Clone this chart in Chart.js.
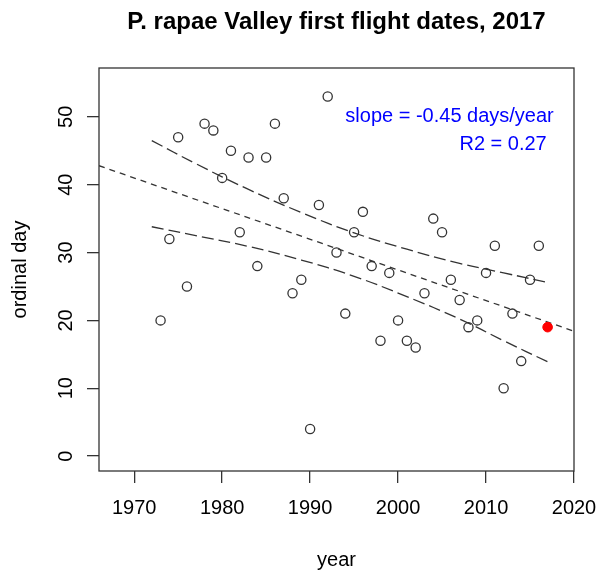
<!DOCTYPE html>
<html>
<head>
<meta charset="utf-8">
<script src="https://cdn.jsdelivr.net/npm/chart.js@4.4.0/dist/chart.umd.min.js"></script>
<style>
  html, body { margin: 0; padding: 0; background: #fff; }
  #wrap { width: 598px; height: 570px; }
</style>
</head>
<body>
<div id="wrap"><canvas id="chart" width="598" height="570"></canvas></div>
<script>
// first flight (ordinal day) per year
const years = [1973, 1974, 1975, 1976, 1978, 1979, 1980, 1981, 1982, 1983, 1984, 1985,
  1986, 1987, 1988, 1989, 1990, 1991, 1992, 1993, 1994, 1995, 1996, 1997, 1998, 1999,
  2000, 2001, 2002, 2003, 2004, 2005, 2006, 2007, 2008, 2009, 2010, 2011, 2012, 2013,
  2014, 2015, 2016];
const days = [20, 32, 47, 25, 49, 48, 41, 45, 33, 44, 28, 44,
  49, 38, 24, 26, 4, 37, 53, 30, 21, 33, 36, 28, 17, 27,
  20, 17, 16, 24, 35, 33, 26, 23, 19, 20, 27, 31, 10, 21,
  14, 26, 31];
// current year, shown in red
const currentYear = [2017];
const currentDay = [19];

// regression line (across the whole plot)
const fitYears = [1966, 2020];
const fitDays = [42.8, 18.4];

// confidence band, read at a few years
const bandYears = [1972, 1977, 1983, 1989, 1995, 2001, 2007, 2012, 2017];
const bandUpper = [46.5, 43.1, 39.3, 35.9, 32.9, 30.5, 28.4, 27.0, 25.6];
const bandLower = [33.8, 32.5, 30.9, 28.9, 26.5, 23.5, 20.2, 17.0, 13.9];

const xTicks = [1970, 1980, 1990, 2000, 2010, 2020];
const yTicks = [0, 10, 20, 30, 40, 50];

const titleText = 'P. rapae Valley first flight dates, 2017';
const noteLines = ['slope = -0.45 days/year', 'R2 = 0.27'];
const noteX = [2017.7, 2016.9];
const noteY = [49.3, 45.1];

const FONT = "'Liberation Sans', Arial, Helvetica, sans-serif";
const INK = '#333';

const toXY = (xs, ys) => xs.map((x, i) => ({x: x, y: ys[i]}));

// box, rotated y labels, title, note text
const decor = {
  id: 'decor',
  afterDraw(chart) {
    const ctx = chart.ctx;
    const a = chart.chartArea;
    const xs = chart.scales.x, ys = chart.scales.y;
    ctx.save();
    ctx.strokeStyle = INK;
    ctx.lineWidth = 1.3;
    ctx.strokeRect(a.left, a.top, a.right - a.left, a.bottom - a.top);

    ctx.fillStyle = '#000';
    ctx.font = '20px ' + FONT;
    ctx.textAlign = 'center';
    ctx.textBaseline = 'alphabetic';
    yTicks.forEach(v => {
      ctx.save();
      ctx.translate(72, ys.getPixelForValue(v));
      ctx.rotate(-Math.PI / 2);
      ctx.fillText(String(v), 0, 0);
      ctx.restore();
    });

    ctx.font = 'bold 24px ' + FONT;
    ctx.fillText(titleText, (a.left + a.right) / 2, 29);

    ctx.fillStyle = '#0000ff';
    ctx.font = '20px ' + FONT;
    ctx.textAlign = 'right';
    noteLines.forEach((t, i) => {
      ctx.fillText(t, xs.getPixelForValue(noteX[i]), ys.getPixelForValue(noteY[i]));
    });
    ctx.restore();
  }
};

new Chart(document.getElementById('chart'), {
  type: 'scatter',
  data: {
    datasets: [
      {
        data: toXY(years, days),
        pointStyle: 'circle',
        pointRadius: 4.6,
        pointBorderWidth: 1.3,
        pointBorderColor: INK,
        pointBackgroundColor: 'rgba(0,0,0,0)'
      },
      {
        data: toXY(currentYear, currentDay),
        pointRadius: 4.8,
        pointBorderWidth: 1,
        pointBorderColor: '#ff0000',
        pointBackgroundColor: '#ff0000'
      },
      {
        type: 'line',
        data: toXY(fitYears, fitDays),
        borderColor: INK,
        borderWidth: 1.3,
        borderDash: [6, 5],
        pointRadius: 0,
        fill: false
      },
      {
        type: 'line',
        data: toXY(bandYears, bandUpper),
        borderColor: INK,
        borderWidth: 1.3,
        borderDash: [12, 5],
        pointRadius: 0,
        tension: 0.4,
        fill: false
      },
      {
        type: 'line',
        data: toXY(bandYears, bandLower),
        borderColor: INK,
        borderWidth: 1.3,
        borderDash: [12, 5],
        pointRadius: 0,
        tension: 0.4,
        fill: false
      }
    ]
  },
  options: {
    responsive: false,
    animation: false,
    devicePixelRatio: 1,
    layout: { padding: { top: 68, right: 24, left: 0, bottom: 0 } },
    plugins: {
      legend: { display: false },
      tooltip: { enabled: false },
      title: { display: false }
    },
    scales: {
      x: {
        type: 'linear',
        min: 1966,
        max: 2020,
        afterBuildTicks: s => { s.ticks = xTicks.map(v => ({value: v})); },
        afterFit: s => { s.height = 99; s.paddingLeft = 0; s.paddingRight = 0; },
        border: { display: false },
        grid: { drawOnChartArea: false, drawTicks: true, tickLength: 12, color: INK, lineWidth: 1.3 },
        ticks: { color: '#000', padding: 13, maxRotation: 0, callback: v => String(v),
                 font: { family: FONT, size: 20, lineHeight: 1.2 } },
        title: { display: true, text: 'year', color: '#000', padding: { top: 0, bottom: 0 },
                 font: { family: FONT, size: 20, lineHeight: 1 } }
      },
      y: {
        type: 'linear',
        min: -2.2,
        max: 57.2,
        afterBuildTicks: s => { s.ticks = yTicks.map(v => ({value: v})); },
        afterFit: s => { s.width = 99; s.paddingTop = 0; s.paddingBottom = 0; },
        border: { display: false },
        grid: { drawOnChartArea: false, drawTicks: true, tickLength: 12, color: INK, lineWidth: 1.3 },
        ticks: { display: false },
        title: { display: true, text: 'ordinal day', color: '#000', padding: { top: 10, bottom: 0 },
                 font: { family: FONT, size: 20, lineHeight: 1 } }
      }
    }
  },
  plugins: [decor]
});
</script>
</body>
</html>
